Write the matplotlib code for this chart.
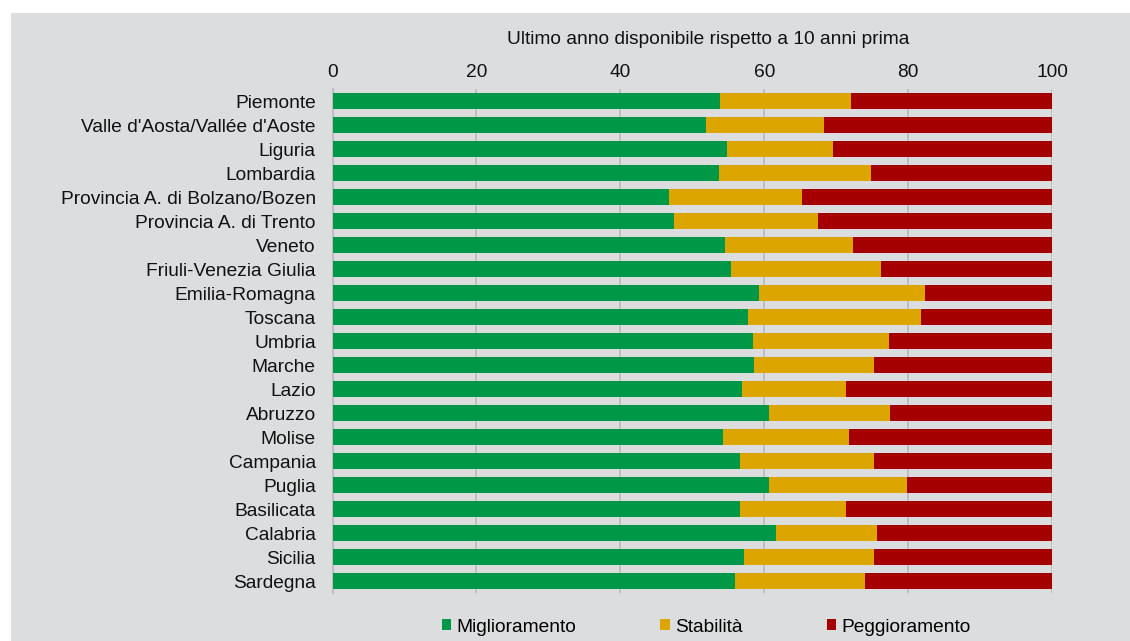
import matplotlib
matplotlib.use('Agg')
import matplotlib.pyplot as plt
from matplotlib.patches import Rectangle, Patch

plt.rcParams['font.family'] = ['Liberation Sans', 'DejaVu Sans']

# Data
regioni = ['Piemonte', "Valle d'Aosta/Vallée d'Aoste", 'Liguria', 'Lombardia',
           'Provincia A. di Bolzano/Bozen', 'Provincia A. di Trento', 'Veneto',
           'Friuli-Venezia Giulia', 'Emilia-Romagna', 'Toscana', 'Umbria', 'Marche',
           'Lazio', 'Abruzzo', 'Molise', 'Campania', 'Puglia', 'Basilicata',
           'Calabria', 'Sicilia', 'Sardegna']
miglioramento = [53.8, 51.9, 54.8, 53.7, 46.8, 47.5, 54.5, 55.4, 59.3, 57.7, 58.4,
                 58.6, 56.9, 60.6, 54.3, 56.6, 60.6, 56.7, 61.7, 57.2, 56.0]
stabilita_cum = [72.0, 68.3, 69.5, 74.9, 65.2, 67.5, 72.3, 76.2, 82.4, 81.8, 77.3,
                 75.2, 71.4, 77.5, 71.8, 75.3, 79.9, 71.3, 75.7, 75.3, 74.0]
stabilita = [s - m for s, m in zip(stabilita_cum, miglioramento)]
peggioramento = [100 - s for s in stabilita_cum]

x_ticks = [0, 20, 40, 60, 80, 100]
titolo = 'Ultimo anno disponibile rispetto a 10 anni prima'
legenda = ['Miglioramento', 'Stabilità', 'Peggioramento']

col_verde = '#009846'
col_giallo = '#DCA500'
col_rosso = '#A50000'
col_sfondo = '#DCDDDF'
col_griglia = '#BEBFC1'
fs = 13.8

W, H = 1130, 641
fig = plt.figure(figsize=(W / 100, H / 100), dpi=100)
fig.patch.set_facecolor('white')
fig.patches.append(Rectangle((11 / W, 0), 1 - 11 / W, 1 - 13 / H,
                             transform=fig.transFigure, facecolor=col_sfondo,
                             edgecolor='none', zorder=-10))

ax = fig.add_axes([332.5 / W, 1 - 593 / H, (1052 - 332.5) / W, (593 - 89) / H])
ax.set_facecolor('none')
ax.set_zorder(1)

y = list(range(len(regioni)))
h = 0.67
ax.barh(y, miglioramento, height=h, color=col_verde, linewidth=0, zorder=3)
ax.barh(y, stabilita, left=miglioramento, height=h, color=col_giallo, linewidth=0, zorder=3)
ax.barh(y, peggioramento, left=stabilita_cum, height=h, color=col_rosso, linewidth=0, zorder=3)

ax.set_ylim(len(regioni) - 0.5, -0.5)
ax.set_xlim(0, 100)
ax.set_yticks(y)
ax.set_yticklabels(regioni, fontsize=fs, color='#111111')
ax.set_xticks(x_ticks)
ax.set_xticklabels([str(t) for t in x_ticks], fontsize=fs, color='#111111')
ax.xaxis.tick_top()
ax.tick_params(axis='x', length=0, pad=6)
ax.tick_params(axis='y', length=0, pad=12)

for s in ['top', 'right', 'bottom']:
    ax.spines[s].set_visible(False)
ax.spines['left'].set_color(col_griglia)
ax.spines['left'].set_linewidth(1.5)
ax.grid(axis='x', color=col_griglia, linewidth=1.5, zorder=1)
ax.grid(axis='y', visible=False)

fig.text(708 / W, 1 - 39 / H, titolo, ha='center', va='center', fontsize=fs, color='#111111')

handles = [Patch(facecolor=c, edgecolor='none') for c in [col_verde, col_giallo, col_rosso]]
fig.legend(handles, legenda, ncol=3, loc='center', bbox_to_anchor=(706 / W, 1 - 627 / H),
           frameon=False, fontsize=fs, handlelength=0.5, handleheight=0.5,
           handletextpad=0.25, columnspacing=4.4, borderpad=0)

fig.savefig('out.png', dpi=100)
